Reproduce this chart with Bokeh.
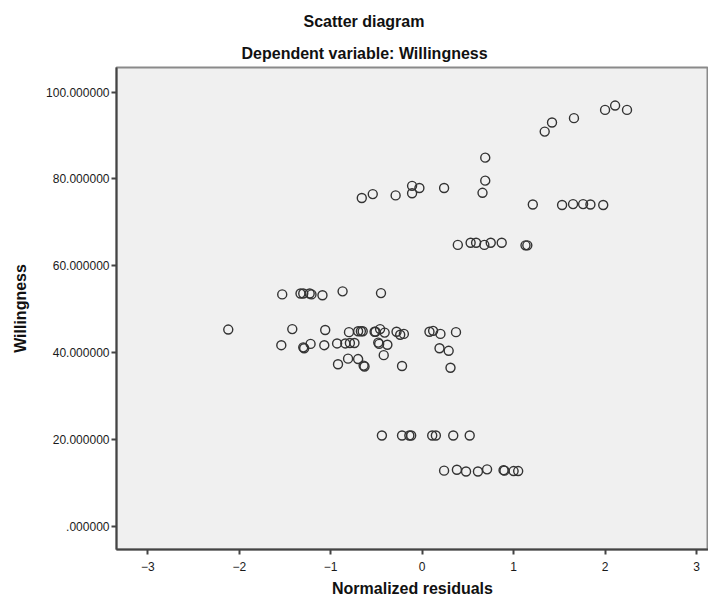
from bokeh.plotting import figure
from bokeh.models import Range1d, FixedTicker, Title, ColumnDataSource
from bokeh.embed import file_html
from bokeh.resources import INLINE

# ---- data ----
residuals = [
    -0.66, -0.54, -0.29, -0.11, -0.11, -0.03, 0.24, 0.69, 0.69, 0.66,
    1.34, 1.42, 1.66, 2.00, 2.11, 2.24,
    1.21, 1.53, 1.65, 1.76, 1.84, 1.98,
    0.39, 0.53, 0.59, 0.68, 0.75, 0.87, 1.13, 1.15,
    -1.53, -1.33, -1.30, -1.23, -1.21, -1.09, -0.87, -0.45,
    -2.12, -1.42, -1.06, -0.80, -0.70, -0.67, -0.65, -0.52, -0.51, -0.46,
    -0.41, -0.28, -0.24, -0.20, 0.08, 0.12, 0.20, 0.37,
    -1.54, -1.30, -1.29, -1.22, -1.07, -0.93, -0.84, -0.79, -0.74, -0.48,
    -0.47, -0.38, -0.42, 0.19, 0.29,
    -0.92, -0.81, -0.70, -0.64, -0.63, -0.22, 0.31,
    -0.44, -0.22, -0.14, -0.12, 0.11, 0.15, 0.34, 0.52,
    0.24, 0.38, 0.48, 0.61, 0.71, 0.89, 0.90, 1.00, 1.05,
]
willingness = [
    75.6, 76.5, 76.2, 78.4, 76.7, 77.9, 77.9, 84.9, 79.6, 76.8,
    90.9, 93.0, 94.0, 95.9, 96.9, 95.9,
    74.1, 74.0, 74.2, 74.2, 74.1, 74.0,
    64.8, 65.3, 65.3, 64.8, 65.3, 65.3, 64.7, 64.7,
    53.4, 53.6, 53.6, 53.6, 53.4, 53.2, 54.1, 53.7,
    45.3, 45.4, 45.2, 44.7, 44.9, 44.9, 44.9, 44.8, 44.8, 45.4,
    44.6, 44.8, 44.1, 44.3, 44.8, 45.0, 44.3, 44.7,
    41.7, 41.2, 41.0, 42.0, 41.7, 42.1, 42.1, 42.2, 42.2, 42.3,
    42.0, 41.8, 39.4, 41.0, 40.4,
    37.3, 38.6, 38.5, 37.0, 36.8, 36.9, 36.5,
    20.9, 20.9, 20.9, 20.9, 20.9, 20.9, 20.9, 20.9,
    12.8, 13.0, 12.6, 12.6, 13.1, 12.9, 12.8, 12.7, 12.7,
]
x_ticks = [-3, -2, -1, 0, 1, 2, 3]
y_ticks = [0, 20, 40, 60, 80, 100]
y_tick_labels = [".000000", "20.000000", "40.000000", "60.000000", "80.000000", "100.000000"]

title_text = "Scatter diagram"
subtitle_text = "Dependent variable: Willingness"
x_title = "Normalized residuals"
y_title = "Willingness"

FONT = "Liberation Sans"

p = figure(width=708, height=599, output_backend="svg", toolbar_location=None,
           x_range=Range1d(-3.342, 3.131), y_range=Range1d(-5.37, 105.67),
           min_border_left=116, min_border_right=0, min_border_top=67, min_border_bottom=50)
p.background_fill_color = "#f0f0f0"
p.border_fill_color = "white"
p.outline_line_color = "#8a8a8a"
p.outline_line_width = 2
p.xgrid.visible = False
p.ygrid.visible = False

src = ColumnDataSource(dict(x=residuals, y=willingness))
p.scatter("x", "y", source=src, marker="circle", size=9, fill_color=None,
          line_color="#333333", line_width=1.4)

for ax in (p.xaxis[0], p.yaxis[0]):
    ax.axis_line_color = "#444444"
    ax.axis_line_width = 2
    ax.major_tick_line_color = "#444444"
    ax.major_tick_line_width = 2
    ax.major_tick_out = 5
    ax.major_tick_in = 0
    ax.minor_tick_line_color = None
    ax.major_label_text_font = FONT
    ax.major_label_text_font_size = "12px"
    ax.major_label_text_color = "#1a1a1a"
    ax.axis_label_text_font = FONT
    ax.axis_label_text_font_style = "bold"
    ax.axis_label_text_font_size = "16px"
    ax.axis_label_text_color = "#111111"

p.xaxis.ticker = FixedTicker(ticks=x_ticks)
p.yaxis.ticker = FixedTicker(ticks=y_ticks)
p.yaxis.major_label_overrides = {t: s for t, s in zip(y_ticks, y_tick_labels)}
p.xaxis.axis_label = x_title
p.yaxis.axis_label = y_title
p.xaxis.major_label_standoff = 7
p.xaxis.axis_label_standoff = 6
p.yaxis.major_label_standoff = 2
p.yaxis.axis_label_standoff = 14

p.title.text = title_text
p.title.align = "left"
p.title.offset = 187
p.title.standoff = 13
p.title.text_font = FONT
p.title.text_font_style = "bold"
p.title.text_font_size = "16px"
p.title.text_color = "#111111"
p.add_layout(Title(text=subtitle_text, align="left", offset=125, standoff=12,
                   text_font=FONT, text_font_style="bold", text_font_size="16px",
                   text_color="#111111"), "above")

open("out.html", "w").write(file_html(p, INLINE))
